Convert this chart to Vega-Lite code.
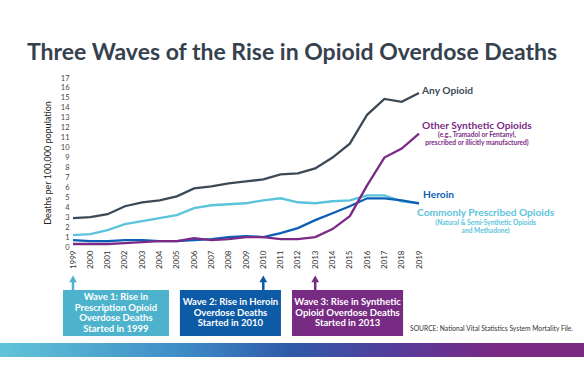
{
  "$schema": "https://vega.github.io/schema/vega-lite/v6.json",
  "width": 346,
  "height": 169,
  "autosize": {"type": "none"},
  "padding": {"left": 73, "top": 78, "right": 165, "bottom": 142},
  "background": "white",
  "config": {
    "font": "Lato",
    "view": {"stroke": null},
    "axis": {"labelOverlap": false, "labelBound": false, "labelFlush": false, "ticks": false, "grid": false, "domain": false}
  },
  "title": {
    "text": "Three Waves of the Rise in Opioid Overdose Deaths",
    "fontSize": 23,
    "fontWeight": "bold",
    "color": "#36414e",
    "anchor": "middle",
    "dx": 46,
    "offset": 9
  },
  "datasets": {
    "lines": [
      {"series": "Any Opioid", "year": 1999, "value": 2.9},
      {"series": "Any Opioid", "year": 2000, "value": 3.0},
      {"series": "Any Opioid", "year": 2001, "value": 3.3},
      {"series": "Any Opioid", "year": 2002, "value": 4.1},
      {"series": "Any Opioid", "year": 2003, "value": 4.5},
      {"series": "Any Opioid", "year": 2004, "value": 4.7},
      {"series": "Any Opioid", "year": 2005, "value": 5.1},
      {"series": "Any Opioid", "year": 2006, "value": 5.9},
      {"series": "Any Opioid", "year": 2007, "value": 6.1},
      {"series": "Any Opioid", "year": 2008, "value": 6.4},
      {"series": "Any Opioid", "year": 2009, "value": 6.6},
      {"series": "Any Opioid", "year": 2010, "value": 6.8},
      {"series": "Any Opioid", "year": 2011, "value": 7.3},
      {"series": "Any Opioid", "year": 2012, "value": 7.4},
      {"series": "Any Opioid", "year": 2013, "value": 7.9},
      {"series": "Any Opioid", "year": 2014, "value": 9.0},
      {"series": "Any Opioid", "year": 2015, "value": 10.4},
      {"series": "Any Opioid", "year": 2016, "value": 13.3},
      {"series": "Any Opioid", "year": 2017, "value": 14.9},
      {"series": "Any Opioid", "year": 2018, "value": 14.6},
      {"series": "Any Opioid", "year": 2019, "value": 15.5},
      {"series": "Commonly Prescribed Opioids", "year": 1999, "value": 1.2},
      {"series": "Commonly Prescribed Opioids", "year": 2000, "value": 1.3},
      {"series": "Commonly Prescribed Opioids", "year": 2001, "value": 1.7},
      {"series": "Commonly Prescribed Opioids", "year": 2002, "value": 2.3},
      {"series": "Commonly Prescribed Opioids", "year": 2003, "value": 2.6},
      {"series": "Commonly Prescribed Opioids", "year": 2004, "value": 2.9},
      {"series": "Commonly Prescribed Opioids", "year": 2005, "value": 3.2},
      {"series": "Commonly Prescribed Opioids", "year": 2006, "value": 3.9},
      {"series": "Commonly Prescribed Opioids", "year": 2007, "value": 4.2},
      {"series": "Commonly Prescribed Opioids", "year": 2008, "value": 4.3},
      {"series": "Commonly Prescribed Opioids", "year": 2009, "value": 4.4},
      {"series": "Commonly Prescribed Opioids", "year": 2010, "value": 4.7},
      {"series": "Commonly Prescribed Opioids", "year": 2011, "value": 4.9},
      {"series": "Commonly Prescribed Opioids", "year": 2012, "value": 4.5},
      {"series": "Commonly Prescribed Opioids", "year": 2013, "value": 4.4},
      {"series": "Commonly Prescribed Opioids", "year": 2014, "value": 4.6},
      {"series": "Commonly Prescribed Opioids", "year": 2015, "value": 4.7},
      {"series": "Commonly Prescribed Opioids", "year": 2016, "value": 5.2},
      {"series": "Commonly Prescribed Opioids", "year": 2017, "value": 5.2},
      {"series": "Commonly Prescribed Opioids", "year": 2018, "value": 4.6},
      {"series": "Commonly Prescribed Opioids", "year": 2019, "value": 4.4},
      {"series": "Heroin", "year": 1999, "value": 0.7},
      {"series": "Heroin", "year": 2000, "value": 0.6},
      {"series": "Heroin", "year": 2001, "value": 0.6},
      {"series": "Heroin", "year": 2002, "value": 0.7},
      {"series": "Heroin", "year": 2003, "value": 0.7},
      {"series": "Heroin", "year": 2004, "value": 0.6},
      {"series": "Heroin", "year": 2005, "value": 0.6},
      {"series": "Heroin", "year": 2006, "value": 0.7},
      {"series": "Heroin", "year": 2007, "value": 0.8},
      {"series": "Heroin", "year": 2008, "value": 1.0},
      {"series": "Heroin", "year": 2009, "value": 1.1},
      {"series": "Heroin", "year": 2010, "value": 1.0},
      {"series": "Heroin", "year": 2011, "value": 1.4},
      {"series": "Heroin", "year": 2012, "value": 1.9},
      {"series": "Heroin", "year": 2013, "value": 2.7},
      {"series": "Heroin", "year": 2014, "value": 3.4},
      {"series": "Heroin", "year": 2015, "value": 4.1},
      {"series": "Heroin", "year": 2016, "value": 4.9},
      {"series": "Heroin", "year": 2017, "value": 4.9},
      {"series": "Heroin", "year": 2018, "value": 4.7},
      {"series": "Heroin", "year": 2019, "value": 4.4},
      {"series": "Other Synthetic Opioids", "year": 1999, "value": 0.3},
      {"series": "Other Synthetic Opioids", "year": 2000, "value": 0.3},
      {"series": "Other Synthetic Opioids", "year": 2001, "value": 0.3},
      {"series": "Other Synthetic Opioids", "year": 2002, "value": 0.4},
      {"series": "Other Synthetic Opioids", "year": 2003, "value": 0.5},
      {"series": "Other Synthetic Opioids", "year": 2004, "value": 0.6},
      {"series": "Other Synthetic Opioids", "year": 2005, "value": 0.6},
      {"series": "Other Synthetic Opioids", "year": 2006, "value": 0.9},
      {"series": "Other Synthetic Opioids", "year": 2007, "value": 0.7},
      {"series": "Other Synthetic Opioids", "year": 2008, "value": 0.8},
      {"series": "Other Synthetic Opioids", "year": 2009, "value": 1.0},
      {"series": "Other Synthetic Opioids", "year": 2010, "value": 1.0},
      {"series": "Other Synthetic Opioids", "year": 2011, "value": 0.8},
      {"series": "Other Synthetic Opioids", "year": 2012, "value": 0.8},
      {"series": "Other Synthetic Opioids", "year": 2013, "value": 1.0},
      {"series": "Other Synthetic Opioids", "year": 2014, "value": 1.8},
      {"series": "Other Synthetic Opioids", "year": 2015, "value": 3.1},
      {"series": "Other Synthetic Opioids", "year": 2016, "value": 6.2},
      {"series": "Other Synthetic Opioids", "year": 2017, "value": 9.0},
      {"series": "Other Synthetic Opioids", "year": 2018, "value": 9.9},
      {"series": "Other Synthetic Opioids", "year": 2019, "value": 11.4}
    ],
    "labels": [
      {"series": "Any Opioid", "text": "Any Opioid", "x": 2020.65, "y": 15.72},
      {"series": "Other Synthetic Opioids", "text": "Other Synthetic Opioids", "x": 2022.35, "y": 12.17},
      {"series": "Heroin", "text": "Heroin", "x": 2020.13, "y": 5.26},
      {"series": "Commonly Prescribed Opioids", "text": "Commonly Prescribed Opioids", "x": 2022.85, "y": 3.45}
    ],
    "sublabels": [
      {"series": "Other Synthetic Opioids", "text": "(e.g., Tramadol or Fentanyl,", "x": 2022.35, "y": 11.25},
      {"series": "Other Synthetic Opioids", "text": "prescribed or illicitly manufactured)", "x": 2022.35, "y": 10.45},
      {"series": "Commonly Prescribed Opioids", "text": "(Natural & Semi-Synthetic Opioids", "x": 2022.85, "y": 2.41},
      {"series": "Commonly Prescribed Opioids", "text": "and Methadone)", "x": 2022.85, "y": 1.64}
    ],
    "waves": [
      {"wave": "Wave 1", "text": "Wave 1: Rise in\nPrescription Opioid\nOverdose Deaths\nStarted in 1999", "year": 1999, "x0": 1998.42, "x1": 2004.55, "cx": 2001.48, "ty": -5.03},
      {"wave": "Wave 2", "text": "Wave 2: Rise in Heroin\nOverdose Deaths\nStarted in 2010", "year": 2010, "x0": 2005.18, "x1": 2011.02, "cx": 2008.1, "ty": -5.55},
      {"wave": "Wave 3", "text": "Wave 3: Rise in Synthetic\nOpioid Overdose Deaths\nStarted in 2013", "year": 2013, "x0": 2011.66, "x1": 2018.08, "cx": 2014.87, "ty": -5.55}
    ],
    "band": [{"x0": 1994.7, "x1": 2028.6}],
    "source": [{"text": "SOURCE: National Vital Statistics System Mortality File.", "x": 2027.9}]
  },
  "layer": [
    {
      "data": {"name": "lines"},
      "mark": {"type": "line", "strokeWidth": 2.3},
      "encoding": {
        "x": {
          "field": "year",
          "type": "quantitative",
          "scale": {"domain": [1999, 2019], "nice": false, "zero": false},
          "axis": {
            "values": [1999, 2000, 2001, 2002, 2003, 2004, 2005, 2006, 2007, 2008, 2009, 2010, 2011, 2012, 2013, 2014, 2015, 2016, 2017, 2018, 2019],
            "tickCount": 40,
            "format": "d",
            "title": null,
            "labelAngle": -90,
            "labelFontSize": 8,
            "labelColor": "#333333",
            "labelPadding": 3,
            "labelOverlap": false
          }
        },
        "y": {
          "field": "value",
          "type": "quantitative",
          "scale": {"domain": [0, 17], "nice": false},
          "axis": {
            "values": [0, 1, 2, 3, 4, 5, 6, 7, 8, 9, 10, 11, 12, 13, 14, 15, 16, 17],
            "tickCount": 40,
            "format": "d",
            "title": "Deaths per 100,000 population",
            "titleFontSize": 9,
            "titleFontWeight": "normal",
            "titleColor": "#222222",
            "titlePadding": 8,
            "labelFontSize": 7.5,
            "labelColor": "#444444",
            "labelPadding": 4,
            "labelOverlap": false
          }
        },
        "color": {
          "field": "series",
          "type": "nominal",
          "legend": null,
          "scale": {
            "domain": ["Any Opioid", "Other Synthetic Opioids", "Heroin", "Commonly Prescribed Opioids", "Wave 1", "Wave 2", "Wave 3"],
            "range": ["#3c4a57", "#7b2b86", "#0b5fb5", "#5bc4dc", "#4db3cc", "#0d5aa7", "#782b83"]
          }
        },
        "detail": {"field": "series"}
      }
    },
    {
      "data": {"name": "band"},
      "mark": {
        "type": "rect",
        "color": {
          "gradient": "linear",
          "x1": 0, "x2": 1, "y1": 0, "y2": 0,
          "stops": [
            {"offset": 0, "color": "#62c4d8"},
            {"offset": 0.3, "color": "#3f8fc8"},
            {"offset": 0.5, "color": "#2f5aa8"},
            {"offset": 0.7, "color": "#5a3898"},
            {"offset": 0.85, "color": "#7a2a84"},
            {"offset": 1, "color": "#7a2a80"}
          ]
        }
      },
      "encoding": {
        "x": {"field": "x0", "type": "quantitative"},
        "x2": {"field": "x1"},
        "y": {"datum": -9.66},
        "y2": {"datum": -11.07}
      }
    },
    {
      "data": {"name": "labels"},
      "mark": {"type": "text", "fontSize": 10.2, "fontWeight": "bold", "align": "center", "baseline": "middle"},
      "encoding": {
        "x": {"field": "x", "type": "quantitative"},
        "y": {"field": "y", "type": "quantitative"},
        "text": {"field": "text"},
        "color": {"field": "series", "type": "nominal", "legend": null}
      }
    },
    {
      "data": {"name": "sublabels"},
      "mark": {"type": "text", "fontSize": 6.6, "fontWeight": "bold", "align": "center", "baseline": "middle"},
      "encoding": {
        "x": {"field": "x", "type": "quantitative"},
        "y": {"field": "y", "type": "quantitative"},
        "text": {"field": "text"},
        "color": {"field": "series", "type": "nominal", "legend": null}
      }
    },
    {
      "data": {"name": "waves"},
      "mark": {"type": "rule", "strokeWidth": 2.5},
      "encoding": {
        "x": {"field": "year", "type": "quantitative"},
        "y": {"datum": -3.3},
        "y2": {"datum": -4.33},
        "color": {"field": "wave", "type": "nominal", "legend": null}
      }
    },
    {
      "data": {"name": "waves"},
      "mark": {"type": "point", "shape": "triangle-up", "filled": true, "size": 60, "opacity": 1},
      "encoding": {
        "x": {"field": "year", "type": "quantitative"},
        "y": {"datum": -3.2},
        "color": {"field": "wave", "type": "nominal", "legend": null}
      }
    },
    {
      "data": {"name": "waves"},
      "mark": {"type": "rect"},
      "encoding": {
        "x": {"field": "x0", "type": "quantitative"},
        "x2": {"field": "x1"},
        "y": {"datum": -4.33},
        "y2": {"datum": -8.95},
        "color": {"field": "wave", "type": "nominal", "legend": null}
      }
    },
    {
      "data": {"name": "waves"},
      "mark": {"type": "text", "fontSize": 9.5, "fontWeight": "bold", "color": "white", "align": "center", "baseline": "middle", "lineBreak": "\n", "lineHeight": 10.5},
      "encoding": {
        "x": {"field": "cx", "type": "quantitative"},
        "y": {"field": "ty", "type": "quantitative"},
        "text": {"field": "text"}
      }
    },
    {
      "data": {"name": "source"},
      "mark": {"type": "text", "fontSize": 6.7, "color": "#333333", "align": "right", "baseline": "middle"},
      "encoding": {
        "x": {"field": "x", "type": "quantitative"},
        "y": {"datum": -8.25},
        "text": {"field": "text"}
      }
    }
  ]
}
